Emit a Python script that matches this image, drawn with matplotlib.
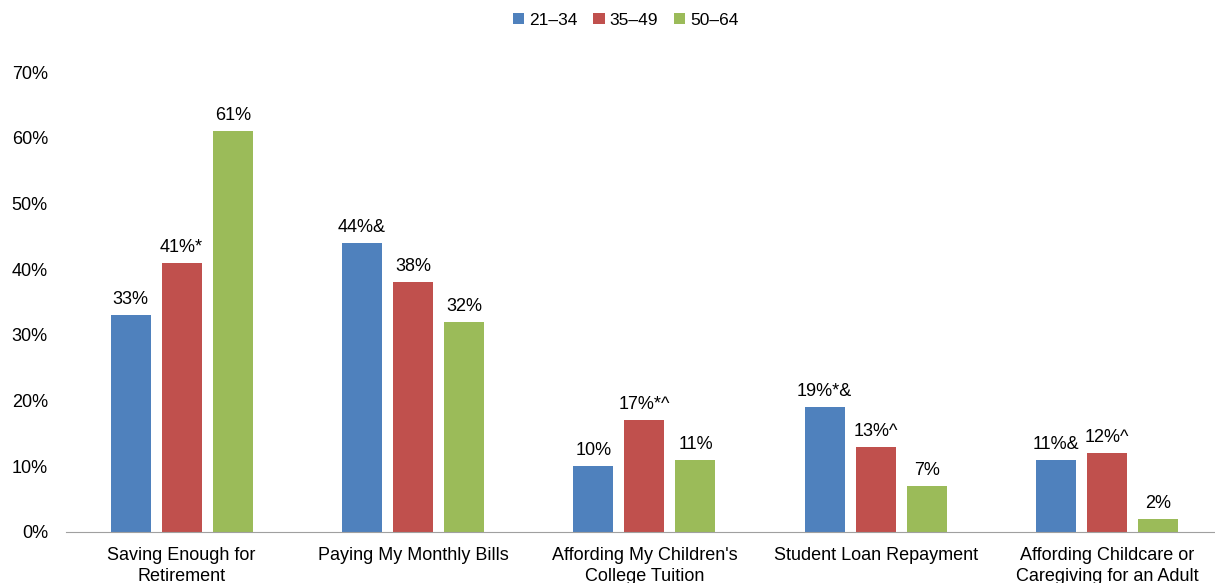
import numpy as np
import matplotlib.pyplot as plt

plt.rcParams["font.family"] = ["Liberation Sans", "DejaVu Sans"]

# Financial concerns by age group (% of respondents)
categories = [
    "Saving Enough for\nRetirement",
    "Paying My Monthly Bills",
    "Affording My Children's\nCollege Tuition",
    "Student Loan Repayment",
    "Affording Childcare or\nCaregiving for an Adult",
]
age_groups = ["21\u201334", "35\u201349", "50\u201364"]
age_21_34 = [33, 44, 10, 19, 11]
age_35_49 = [41, 38, 17, 13, 12]
age_50_64 = [61, 32, 11, 7, 2]
suffix_21_34 = ["", "&", "", "*&", "&"]
suffix_35_49 = ["*", "", "*^", "^", "^"]
suffix_50_64 = ["", "", "", "", ""]

colors = ["#4F81BD", "#C0504D", "#9BBB59"]

fig = plt.figure(figsize=(12.15, 5.83), dpi=100)
ax = fig.add_axes([0.0543, 0.0875, 0.952, 0.789])

x = np.arange(len(categories))
width = 0.173
offsets = [-0.221, 0, 0.221]
series = [age_21_34, age_35_49, age_50_64]
suffixes = [suffix_21_34, suffix_35_49, suffix_50_64]

for vals, sfx, off, col, name in zip(series, suffixes, offsets, colors, age_groups):
    bars = ax.bar(x + off, vals, width, color=col, label=name)
    for b, v, s in zip(bars, vals, sfx):
        ax.annotate(f"{v}%{s}", (b.get_x() + b.get_width() / 2, v),
                    xytext=(0, 5), textcoords="offset points",
                    ha="center", va="bottom", fontsize=13)

ax.set_xlim(-0.5, 4.5)
ax.set_ylim(0, 70)
ax.set_yticks(range(0, 71, 10))
ax.set_yticklabels([f"{t}%" for t in range(0, 71, 10)], fontsize=13)
ax.set_xticks(x)
ax.set_xticklabels(categories, fontsize=13, linespacing=1.25)
ax.tick_params(axis="both", length=0)
ax.tick_params(axis="x", pad=11)
ax.tick_params(axis="y", pad=13)

for side in ["top", "right", "left"]:
    ax.spines[side].set_visible(False)
ax.spines["bottom"].set_color("#a0a0a0")

fig.legend(loc="upper center", bbox_to_anchor=(0.515, 1.005), ncol=3, frameon=False,
           fontsize=12.5, handlelength=0.65, handleheight=0.65, handletextpad=0.3,
           columnspacing=0.9)

fig.savefig("out.png", dpi=100)
